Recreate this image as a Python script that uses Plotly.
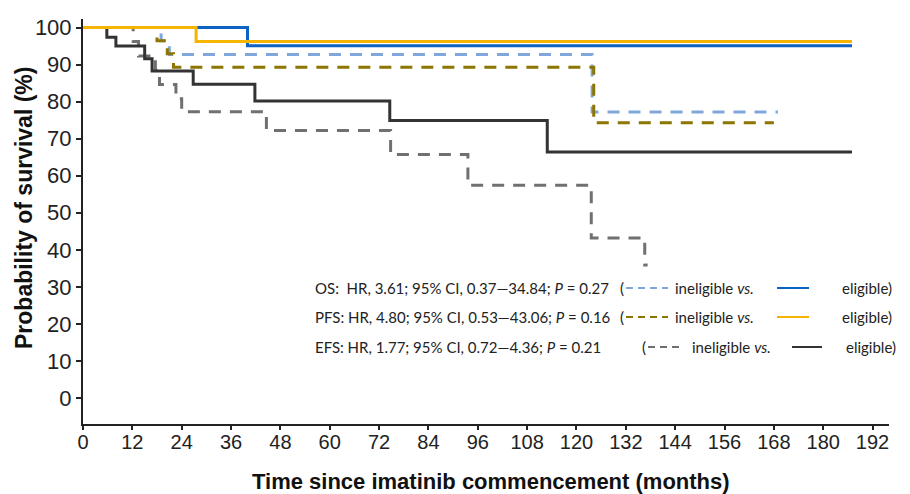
import plotly.graph_objects as go

# ---- data (months, % survival) ----
os_elig_t = [0, 40.0, 187]
os_elig_s = [100, 95.1, 95.1]
pfs_elig_t = [0, 27.5, 187]
pfs_elig_s = [100, 96.2, 96.2]
os_inel_t = [0, 19.0, 21.0, 123.8, 169]
os_inel_s = [100, 96.4, 92.7, 77.2, 77.2]
pfs_inel_t = [0, 18.0, 20.5, 22.0, 124.2, 168]
pfs_inel_s = [100, 96.4, 92.9, 89.3, 74.3, 74.3]
efs_elig_t = [0, 5.8, 8.0, 15.0, 16.8, 26.8, 41.8, 74.6, 112.9, 187]
efs_elig_s = [100, 97.4, 95.0, 91.6, 88.3, 84.7, 80.2, 74.9, 66.4, 66.4]
efs_inel_t = [0, 12.2, 13.5, 17.6, 18.6, 22.6, 24.0, 44.6, 74.8, 93.6, 123.6, 136.6, 137.3]
efs_inel_s = [100, 96.2, 92.3, 88.5, 84.6, 80.8, 77.3, 72.2, 65.7, 57.4, 43.2, 35.9, 35.9]

x_ticks = list(range(0, 193, 12))
y_ticks = list(range(0, 101, 10))

stats = [
    ("OS:  HR, 3.61; 95% CI, 0.37\u201434.84; <i>P</i> = 0.27", "#7FA7DC", "#0D63C4"),
    ("PFS: HR, 4.80; 95% CI, 0.53\u201443.06; <i>P</i> = 0.16", "#8C7500", "#F4B400"),
    ("EFS: HR, 1.77; 95% CI, 0.72\u20144.36; <i>P</i> = 0.21", "#6E6E6E", "#333333"),
]

DASH = "12px,9px"
fig = go.Figure()
series = [
    (os_inel_t, os_inel_s, "#7FA7DC", DASH),
    (pfs_inel_t, pfs_inel_s, "#8C7500", DASH),
    (efs_inel_t, efs_inel_s, "#707070", DASH),
    (efs_elig_t, efs_elig_s, "#333333", "solid"),
    (os_elig_t, os_elig_s, "#0D63C4", "solid"),
    (pfs_elig_t, pfs_elig_s, "#F4B400", "solid"),
]
for t, s, c, d in series:
    fig.add_trace(go.Scatter(x=t, y=s, mode="lines", line=dict(color=c, width=3, dash=d, shape="hv"),
                             showlegend=False, hoverinfo="skip"))

# pixel helpers for the annotation block
L, R, T, B = 83, 21, 19, 70
W, H = 910, 494
PW, PH = W - L - R, H - T - B
def px(x):
    return (x - L) / PW
def py(y):
    return (H - B - y) / PH

annos = []
shapes = []
rows = [
    dict(y=288, tx=313, par=618, d0=626, d1=668, inel=673, s0=777, s1=809, el=840),
    dict(y=317, tx=313, par=618, d0=626, d1=668, inel=673, s0=777, s1=809, el=840),
    dict(y=347, tx=313, par=640, d0=648, d1=684, inel=690, s0=792, s1=822, el=844),
]
tf = dict(family="Lato, Arial", size=15, color="#222222")
for (txt, dc, sc), r in zip(stats, rows):
    annos.append(dict(x=px(r["tx"]), y=py(r["y"]), xref="paper", yref="paper", text=txt,
                      showarrow=False, xanchor="left", yanchor="middle", font=tf))
    annos.append(dict(x=px(r["par"]), y=py(r["y"]), xref="paper", yref="paper", text="(",
                      showarrow=False, xanchor="left", yanchor="middle", font=tf))
    annos.append(dict(x=px(r["inel"]), y=py(r["y"]), xref="paper", yref="paper", text="ineligible <i>vs.</i>",
                      showarrow=False, xanchor="left", yanchor="middle", font=tf))
    annos.append(dict(x=px(r["el"]), y=py(r["y"]), xref="paper", yref="paper", text="eligible)",
                      showarrow=False, xanchor="left", yanchor="middle", font=tf))
    shapes.append(dict(type="line", xref="paper", yref="paper", x0=px(r["d0"]), x1=px(r["d1"]),
                       y0=py(r["y"]), y1=py(r["y"]), line=dict(color=dc, width=2, dash="7px,5px")))
    shapes.append(dict(type="line", xref="paper", yref="paper", x0=px(r["s0"]), x1=px(r["s1"]),
                       y0=py(r["y"]), y1=py(r["y"]), line=dict(color=sc, width=2)))

# axis titles
annos.append(dict(x=px(491), y=py(481), xref="paper", yref="paper",
                  text="<b>Time since imatinib commencement (months)</b>", showarrow=False,
                  xanchor="center", yanchor="middle",
                  font=dict(family="Liberation Sans, Arial", size=22, color="#111111")))
annos.append(dict(x=px(24), y=py(208), xref="paper", yref="paper",
                  text="<b>Probability of survival (%)</b>", showarrow=False, textangle=-90,
                  xanchor="center", yanchor="middle",
                  font=dict(family="Liberation Sans, Arial", size=23, color="#111111")))

fig.update_layout(
    width=W, height=H,
    margin=dict(l=L, r=R, t=T, b=B, pad=0),
    plot_bgcolor="white", paper_bgcolor="white",
    annotations=annos, shapes=shapes,
    xaxis=dict(range=[0, 196], tickvals=x_ticks, ticktext=[str(v) for v in x_ticks],
               showgrid=False, zeroline=False, showline=True, linecolor="#222222", linewidth=2,
               ticks="outside", ticklen=4, tickwidth=1.5, tickcolor="#222222", automargin=False,
               ticklabelstandoff=-5,
               tickfont=dict(family="Liberation Sans Narrow, Arial", size=20, color="#222222")),
    yaxis=dict(range=[-7, 102.3], tickvals=y_ticks, ticktext=[str(v) for v in y_ticks],
               showgrid=False, zeroline=False, showline=True, linecolor="#222222", linewidth=2,
               ticks="outside", ticklen=5, tickwidth=1.5, tickcolor="#222222", automargin=False,
               tickfont=dict(family="Liberation Sans, Arial", size=22, color="#222222")),
)

fig.write_html("out.html")
